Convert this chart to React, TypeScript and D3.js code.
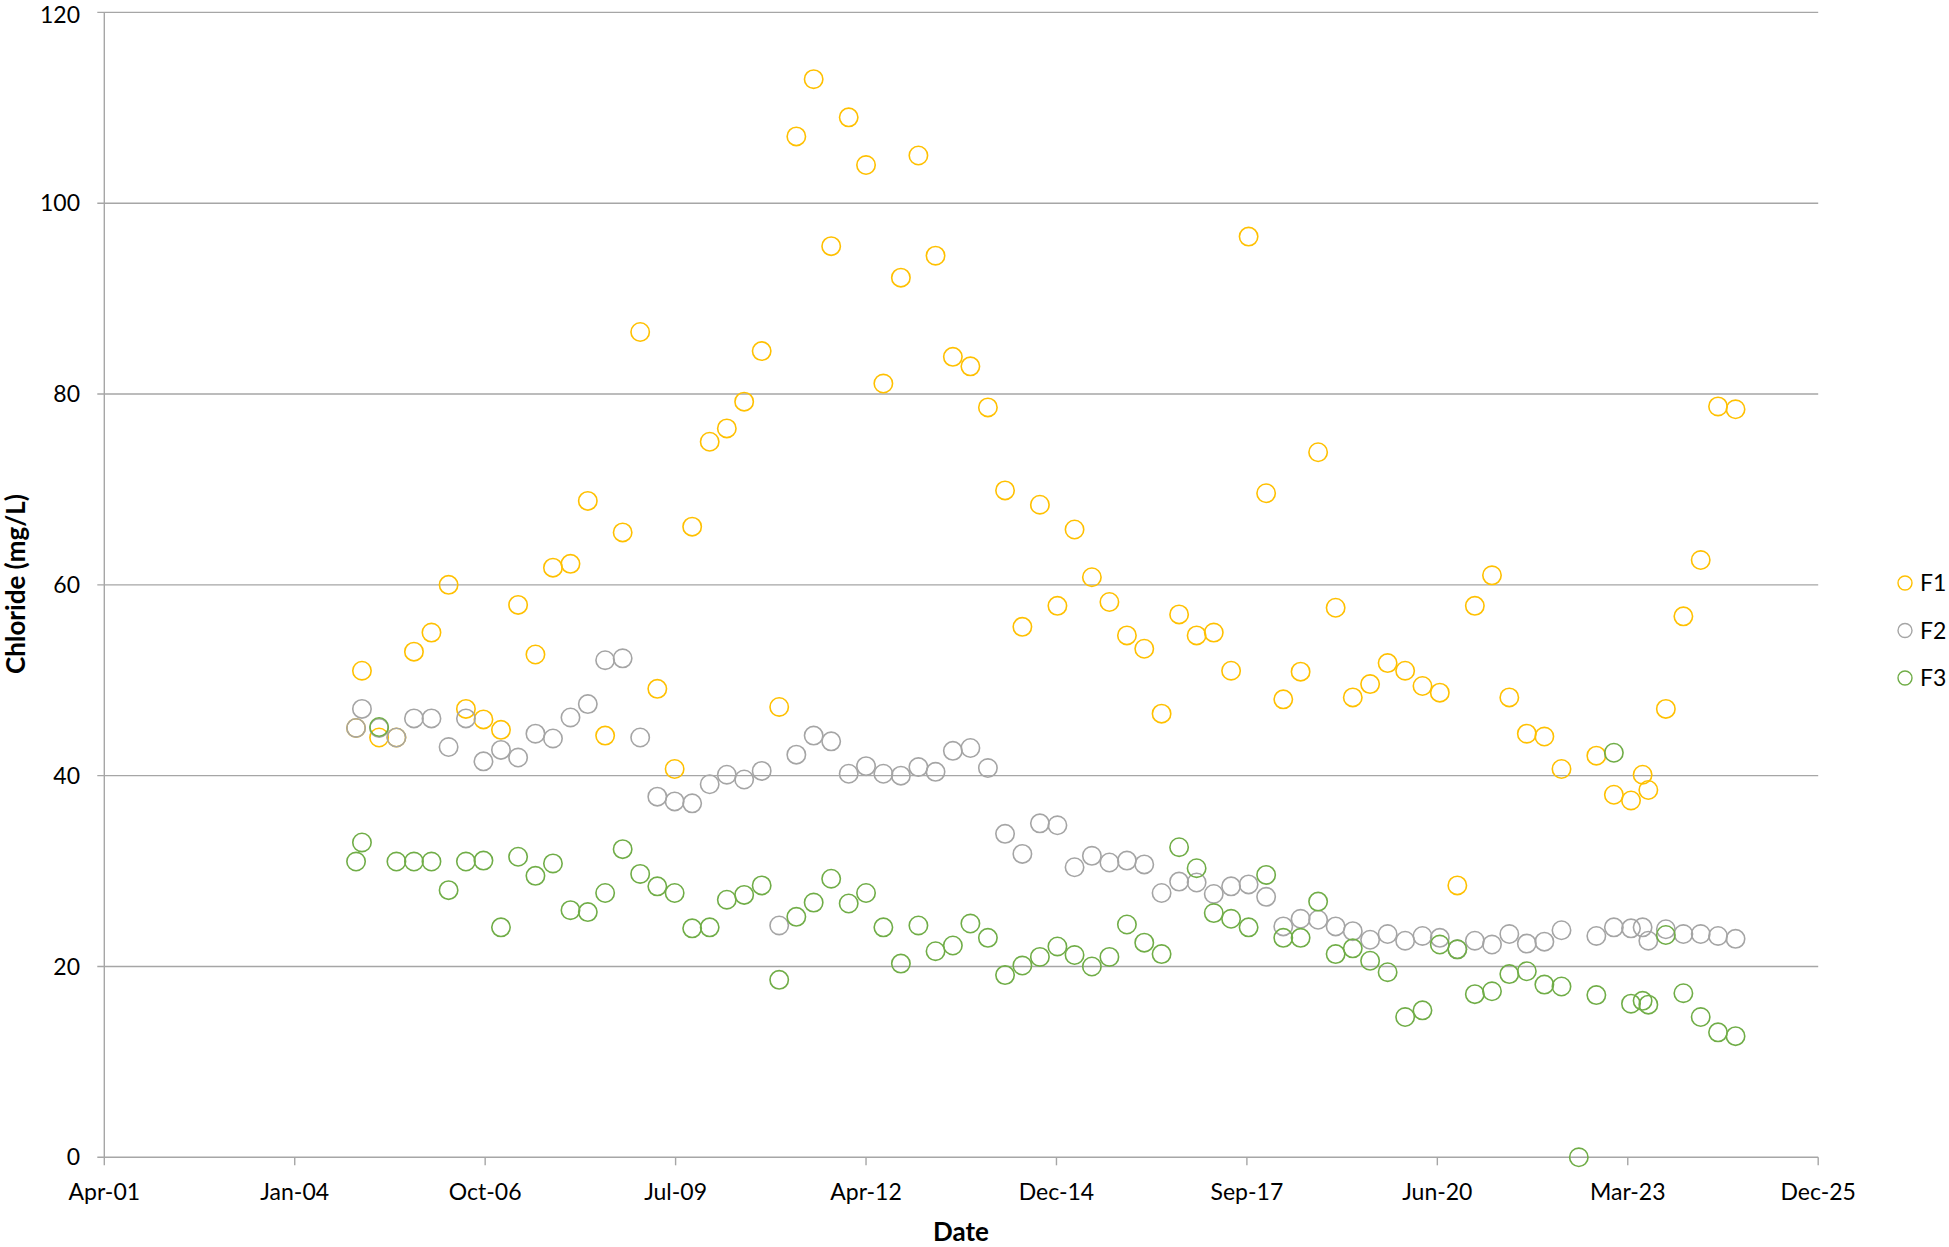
import React from "react";
import * as d3 from "d3";

// Sampling dates (mostly quarterly) and chloride concentrations (mg/L) per well
const sampleDates: string[] = [
  "2004-12-01", "2005-01-01", "2005-04-01", "2005-07-01", "2005-10-01",
  "2006-01-01", "2006-04-01", "2006-07-01", "2006-10-01", "2007-01-01",
  "2007-04-01", "2007-07-01", "2007-10-01", "2008-01-01", "2008-04-01",
  "2008-07-01", "2008-10-01", "2009-01-01", "2009-04-01", "2009-07-01",
  "2009-10-01", "2010-01-01", "2010-04-01", "2010-07-01", "2010-10-01",
  "2011-01-01", "2011-04-01", "2011-07-01", "2011-10-01", "2012-01-01",
  "2012-04-01", "2012-07-01", "2012-10-01", "2013-01-01", "2013-04-01",
  "2013-07-01", "2013-10-01", "2014-01-01", "2014-04-01", "2014-07-01",
  "2014-10-01", "2015-01-01", "2015-04-01", "2015-07-01", "2015-10-01",
  "2016-01-01", "2016-04-01", "2016-07-01", "2016-10-01", "2017-01-01",
  "2017-04-01", "2017-07-01", "2017-10-01", "2018-01-01", "2018-04-01",
  "2018-07-01", "2018-10-01", "2019-01-01", "2019-04-01", "2019-07-01",
  "2019-10-01", "2020-01-01", "2020-04-01", "2020-07-01", "2020-10-01",
  "2021-01-01", "2021-04-01", "2021-07-01", "2021-10-01", "2022-01-01",
  "2022-04-01", "2022-07-01", "2022-10-01", "2023-01-01", "2023-04-01",
  "2023-06-01", "2023-07-01", "2023-10-01", "2024-01-01", "2024-04-01",
  "2024-07-01", "2024-10-01",
];

const f1: (number | null)[] = [
  45, 51, 44, 44, 53,
  55, 60, 47, 45.9, 44.8,
  57.9, 52.7, 61.8, 62.2, 68.8,
  44.2, 65.5, 86.5, 49.1, 40.7,
  66.1, 75.0, 76.4, 79.2, 84.5,
  47.2, 107.0, 113.0, 95.5, 109.0,
  104.0, 81.1, 92.2, 105.0, 94.5,
  83.9, 82.9, 78.6, 69.9, 55.6,
  68.4, 57.8, 65.8, 60.8, 58.2,
  54.7, 53.3, 46.5, 56.9, 54.7,
  55.0, 51.0, 96.5, 69.6, 48.0,
  50.9, 73.9, 57.6, 48.2, 49.6,
  51.8, 51.0, 49.4, 48.7, 28.5,
  57.8, 61.0, 48.2, 44.4, 44.1,
  40.7, null, 42.1, 38.0, 37.4,
  40.1, 38.5, 47.0, 56.7, 62.6,
  78.7, 78.4,
];

const f2: (number | null)[] = [
  45, 47, 45, 44, 46,
  46, 43, 46, 41.5, 42.7,
  41.9, 44.4, 43.9, 46.1, 47.5,
  52.1, 52.3, 44.0, 37.8, 37.3,
  37.1, 39.1, 40.1, 39.6, 40.5,
  24.3, 42.2, 44.2, 43.6, 40.2,
  41.0, 40.2, 40.0, 40.9, 40.4,
  42.6, 42.9, 40.8, 33.9, 31.8,
  35.0, 34.8, 30.4, 31.6, 30.9,
  31.1, 30.7, 27.7, 28.9, 28.8,
  27.6, 28.4, 28.6, 27.3, 24.2,
  25.0, 24.9, 24.2, 23.7, 22.8,
  23.4, 22.7, 23.2, 23.0, 21.8,
  22.7, 22.3, 23.4, 22.4, 22.6,
  23.8, null, 23.2, 24.1, 24.0,
  24.1, 22.7, 23.9, 23.4, 23.4,
  23.2, 22.9,
];

const f3: (number | null)[] = [
  31, 33, 45.1, 31, 31,
  31, 28, 31, 31.1, 24.1,
  31.5, 29.5, 30.8, 25.9, 25.7,
  27.7, 32.3, 29.7, 28.4, 27.7,
  24.0, 24.1, 27.0, 27.5, 28.5,
  18.6, 25.2, 26.7, 29.2, 26.6,
  27.7, 24.1, 20.3, 24.3, 21.6,
  22.2, 24.5, 23.0, 19.1, 20.1,
  21.0, 22.1, 21.2, 20.0, 21.0,
  24.4, 22.5, 21.3, 32.5, 30.3,
  25.6, 25.0, 24.1, 29.6, 23.0,
  23.0, 26.8, 21.3, 21.9, 20.6,
  19.4, 14.7, 15.4, 22.3, 21.8,
  17.1, 17.4, 19.2, 19.5, 18.1,
  17.9, 0, 17.0, 42.4, 16.1,
  16.4, 16.0, 23.3, 17.2, 14.7,
  13.1, 12.7,
];

const seriesNames = ["F1", "F2", "F3"];
const seriesColors = ["#FFC000", "#A5A5A5", "#70AD47"];
const yTicks = [0, 20, 40, 60, 80, 100, 120];
// Spreadsheet day serials used as date-axis ticks (every 1000 days)
const xTickSerials = [37000, 38000, 39000, 40000, 41000, 42000, 43000, 44000, 45000, 46000];

const serialToDate = (s: number) => new Date(Date.UTC(1899, 11, 30) + s * 864e5);
const parseDate = d3.utcParse("%Y-%m-%d");
const fmtTick = d3.utcFormat("%b-%y");

const W = 1949;
const H = 1247;
const plot = { left: 104.3, right: 1818.2, top: 12.4, bottom: 1157.3 };
const FONT = "Lato, 'Open Sans', 'Liberation Sans', sans-serif";

export default function App() {
  const x = d3
    .scaleUtc()
    .domain([serialToDate(xTickSerials[0]), serialToDate(xTickSerials[xTickSerials.length - 1])])
    .range([plot.left, plot.right]);
  const y = d3.scaleLinear().domain([0, 120]).range([plot.bottom, plot.top]);

  const dates = sampleDates.map((d) => parseDate(d) as Date);
  const allSeries = [f1, f2, f3];
  const gridColor = "#a6a6a6";

  return (
    <svg
      width={W}
      height={H}
      style={{ position: "absolute", left: 0, top: 0, background: "#fff" }}
      fontFamily={FONT}
    >
      <rect x={0} y={0} width={W} height={H} fill="#fff" />

      {/* horizontal gridlines and y ticks */}
      {yTicks.map((t) => (
        <g key={`y${t}`}>
          <line x1={plot.left - 7} x2={plot.right} y1={y(t)} y2={y(t)} stroke={gridColor} strokeWidth={1.4} />
          <text x={80} y={Math.max(y(t), 14.5)} dy="0.35em" textAnchor="end" fontSize={23} fill="#000">
            {t}
          </text>
        </g>
      ))}

      {/* y axis line */}
      <line x1={plot.left} x2={plot.left} y1={plot.top} y2={plot.bottom} stroke={gridColor} strokeWidth={1.4} />

      {/* x ticks */}
      {xTickSerials.map((s) => {
        const px = x(serialToDate(s));
        return (
          <g key={`x${s}`}>
            <line x1={px} x2={px} y1={plot.bottom} y2={plot.bottom + 8} stroke={gridColor} strokeWidth={1.4} />
            <text x={px} y={1200} textAnchor="middle" fontSize={23} fill="#000">
              {fmtTick(serialToDate(s))}
            </text>
          </g>
        );
      })}

      {/* axis titles */}
      <text x={961} y={1241} textAnchor="middle" fontSize={26} fontWeight="bold" fill="#000">
        Date
      </text>
      <text
        transform={`translate(25, ${584}) rotate(-90)`}
        textAnchor="middle"
        fontSize={26}
        fontWeight="bold"
        fill="#000"
      >
        Chloride (mg/L)
      </text>

      {/* markers */}
      {allSeries.map((vals, si) => (
        <g key={seriesNames[si]}>
          {vals.map((v, i) =>
            v === null ? null : (
              <circle
                key={i}
                cx={x(dates[i])}
                cy={y(v)}
                r={9.2}
                fill="none"
                stroke={seriesColors[si]}
                strokeWidth={1.6}
              />
            )
          )}
        </g>
      ))}

      {/* legend */}
      {seriesNames.map((n, i) => (
        <g key={`lg${n}`} transform={`translate(1905, ${583 + i * 47.5})`}>
          <circle r={7} fill="none" stroke={seriesColors[i]} strokeWidth={1.4} />
          <text x={15} dy="0.35em" fontSize={23} fill="#000">
            {n}
          </text>
        </g>
      ))}
    </svg>
  );
}
